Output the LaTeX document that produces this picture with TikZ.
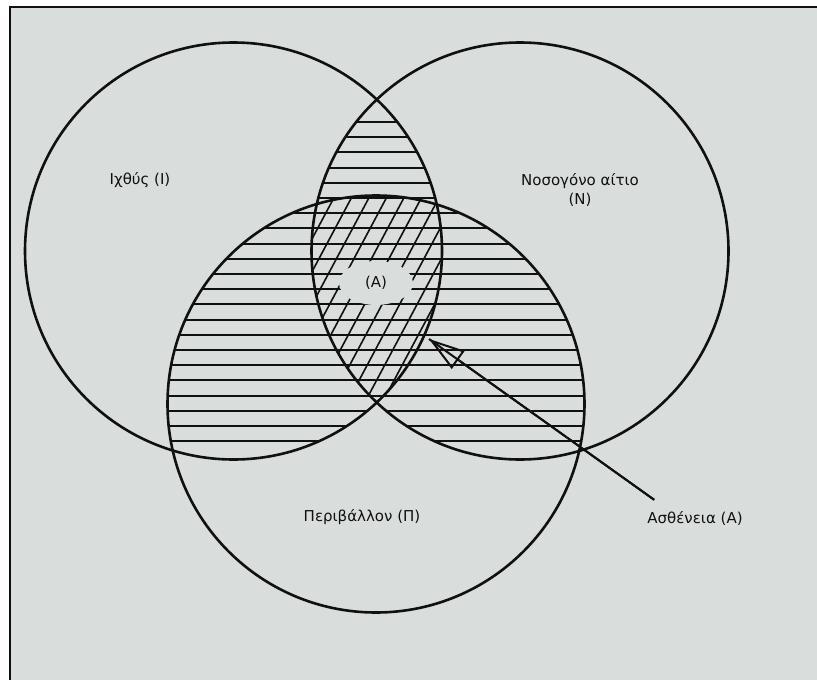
\documentclass[tikz,border=0pt]{standalone}
\usepackage{fontspec}
\setmainfont{DejaVu Sans}
\usetikzlibrary{arrows.meta}
\definecolor{paper}{HTML}{D9DEDC}
\definecolor{ink}{HTML}{101010}
\begin{document}
\begin{tikzpicture}[x={(1pt,0)}, y={(0,-1pt)},
  circ/.style={draw=ink, line width=2.6pt},
  hatch/.style={draw=ink, line width=2.1pt},
  diag/.style={draw=ink, line width=1.6pt},
  lab/.style={font=\fontsize{15}{19}\selectfont, text=ink, inner sep=0pt}]
\useasboundingbox (0,0) rectangle (817,680);
\fill[white] (0,0) rectangle (817,680);
\fill[paper] (9.5,6.5) rectangle (817,680);
\draw[ink, line width=2pt] (9.5,680) -- (9.5,6.5) -- (817,6.5);
\def\R{208.5}
\coordinate (cI) at (233.5,251);
\coordinate (cN) at (520,251);
\coordinate (cP) at (376,404);
% horizontal hatching in pairwise intersections
\begin{scope}
  \clip (cI) circle[radius=\R];
  \clip (cN) circle[radius=\R];
  \foreach \k in {0,...,21} \draw[hatch] (150,{122+15.2*\k}) -- (620,{122+15.2*\k});
\end{scope}
\begin{scope}
  \clip (cI) circle[radius=\R];
  \clip (cP) circle[radius=\R];
  \foreach \k in {0,...,21} \draw[hatch] (150,{122+15.2*\k}) -- (620,{122+15.2*\k});
\end{scope}
\begin{scope}
  \clip (cN) circle[radius=\R];
  \clip (cP) circle[radius=\R];
  \foreach \k in {0,...,21} \draw[hatch] (150,{122+15.2*\k}) -- (620,{122+15.2*\k});
\end{scope}
% diagonal hatching in the triple intersection
\begin{scope}
  \clip (cI) circle[radius=\R];
  \clip (cN) circle[radius=\R];
  \clip (cP) circle[radius=\R];
  \foreach \k in {-12,...,12} \draw[diag] ({296+17.5*\k},433) -- ({456+17.5*\k},133);
\end{scope}
% clear patch around the label
\fill[paper] (376,283) ellipse[x radius=37, y radius=22];
% circles
\draw[circ] (cI) circle[radius=\R];
\draw[circ] (cN) circle[radius=\R];
\draw[circ] (cP) circle[radius=\R];
% labels
\node[lab] (fish) at (140,180) {Ιχθύς (Ι)};
\node[lab, align=center] (agent) at (580,190) {Νοσογόνο αίτιο\\(Ν)};
\node[lab] (env) at (362,517) {Περιβάλλον (Π)};
\node[lab] (core) at (376,283) {(Α)};
\node[lab] (dis) at (695,518) {Ασθένεια (Α)};
% arrow
\coordinate (tip) at (429,339);
\draw[ink, line width=2pt] ([xshift=7pt,yshift=11pt]dis.north west) -- (tip);
\draw[ink, line width=2pt, -{Triangle[open, length=36pt, width=22pt, line width=2pt]}] ([xshift=7pt,yshift=11pt]dis.north west) -- (tip);
\end{tikzpicture}
\end{document}
